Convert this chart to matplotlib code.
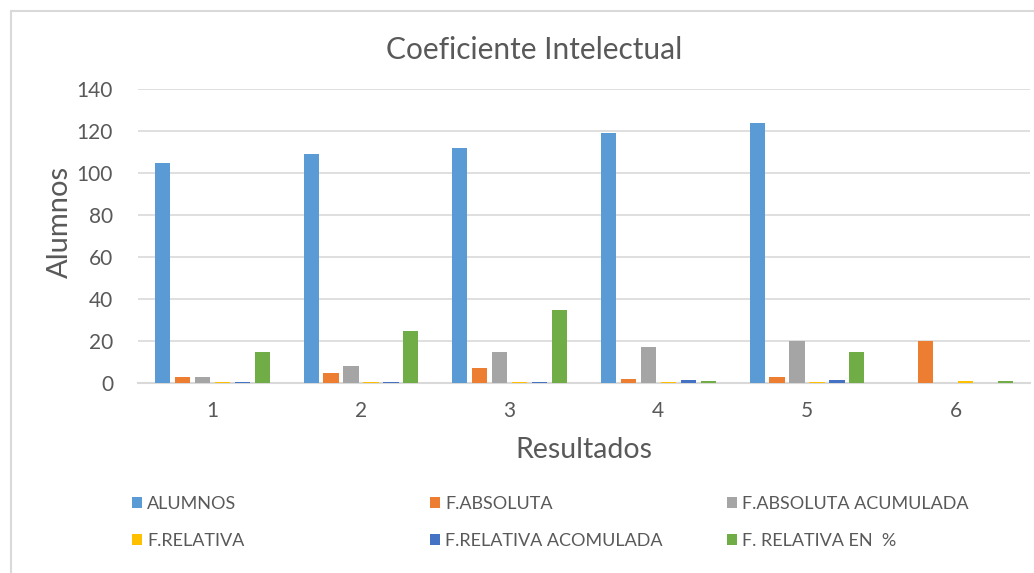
import matplotlib
matplotlib.use("Agg")
import matplotlib.pyplot as plt
import numpy as np
from matplotlib.patches import Patch, Rectangle

categories = ["1", "2", "3", "4", "5", "6"]
series_names = ["ALUMNOS", "F.ABSOLUTA", "F.ABSOLUTA ACUMULADA",
                "F.RELATIVA", "F.RELATIVA ACOMULADA", "F. RELATIVA EN  %"]
alumnos = [105, 109, 112, 119, 124, 0]
f_absoluta = [3, 5, 7, 2, 3, 20]
f_abs_acum = [3, 8, 15, 17, 20, 0]
f_relativa = [0.5, 0.5, 0.5, 0.5, 0.5, 1]
f_rel_acum = [0.6, 0.6, 0.6, 1.2, 1.2, 0]
f_rel_pct = [15, 25, 35, 1, 15, 1]
colors = ["#5B9BD5", "#ED7D31", "#A5A5A5", "#FFC000", "#4472C4", "#70AD47"]
yticks = [0, 20, 40, 60, 80, 100, 120, 140]

series = [alumnos, f_absoluta, f_abs_acum, f_relativa, f_rel_acum, f_rel_pct]

plt.rcParams['font.family'] = ['Lato', 'DejaVu Sans']
txt = "#595959"
grid = "#D9D9D9"

W, H = 1034, 573
fig = plt.figure(figsize=(W / 100, H / 100), dpi=100)
# chart border
fig.patches.append(Rectangle((11 / W, -0.05), 1.2, 1 - 11 / H + 0.05,
                             transform=fig.transFigure, fill=False,
                             edgecolor=grid, linewidth=1.5))

left, right, top, bottom = 138, 1030, 89, 383
ax = fig.add_axes([left / W, 1 - bottom / H, (right - left) / W, (bottom - top) / H])

x = np.arange(len(categories))
step = 0.1345
bw = 0.101
for i, (vals, c) in enumerate(zip(series, colors)):
    ax.bar(x + (i - 2.5) * step, vals, width=bw, color=c, label=series_names[i], zorder=3)

ax.set_xlim(-0.5, len(categories) - 0.5)
ax.set_ylim(0, 140)
ax.set_yticks(yticks)
ax.set_xticks(x)
ax.set_xticklabels(categories)
ax.yaxis.grid(True, color=grid, linewidth=1.2, zorder=0)
for s in ["top", "right", "left"]:
    ax.spines[s].set_visible(False)
ax.spines["bottom"].set_color(grid)
ax.spines["bottom"].set_linewidth(1.5)
ax.tick_params(axis="both", length=0, colors=txt, labelsize=15)
ax.tick_params(axis="y", pad=18)
ax.tick_params(axis="x", pad=13)

fig.text(534 / W, 1 - 50 / H, "Coeficiente Intelectual", ha="center", va="center",
         fontsize=21.5, color=txt)
fig.text(60 / W, 1 - 222 / H, "Alumnos", ha="center", va="center", rotation=90,
         fontsize=21, color=txt)
fig.text(584 / W, 1 - 450 / H, "Resultados", ha="center", va="center",
         fontsize=20.5, color=txt)

# legend: three columns, two rows
col_x = [132, 430, 727]
for c in range(3):
    idx = [c, c + 3]
    handles = [Patch(facecolor=colors[k]) for k in idx]
    labels = [series_names[k] for k in idx]
    lg = fig.legend(handles, labels, loc="upper left",
                    bbox_to_anchor=(col_x[c] / W, 1 - 496 / H), frameon=False,
                    fontsize=13, labelcolor=txt, handlelength=0.55, handleheight=0.55,
                    handletextpad=0.3, labelspacing=1.15, borderaxespad=0, borderpad=0)

fig.savefig("out.png", dpi=100)
